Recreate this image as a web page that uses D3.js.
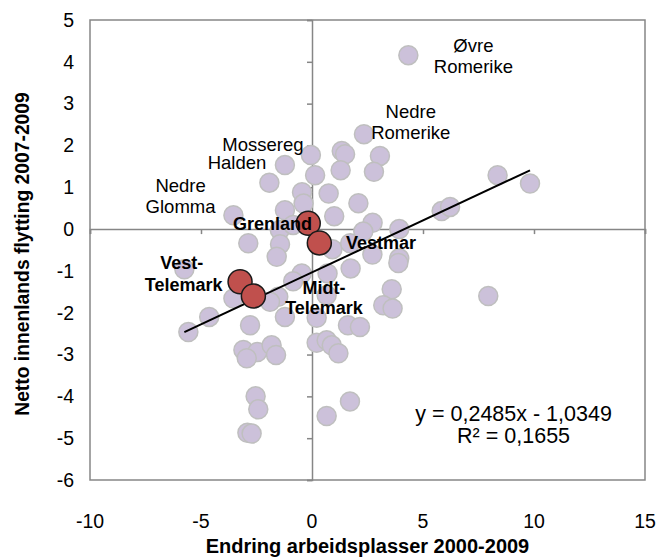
<!DOCTYPE html>
<html><head><meta charset="utf-8">
<script src="https://cdn.jsdelivr.net/npm/d3@7"></script>
<style>html,body{margin:0;padding:0;background:#fff;}svg{display:block;font-family:"Liberation Sans",Arial,sans-serif;}</style>
</head><body>
<script>
// ---- data ----
const xValues = [4.34,2.34,-0.05,1.34,1.49,3.06,0.14,1.29,2.79,8.36,9.82,-1.22,-1.92,-0.45,0.75,2.09,-0.38,-1.22,1.0,5.84,6.22,2.73,2.31,3.93,-3.54,-1.45,-0.85,-2.87,-1.44,-1.59,0.92,1.72,2.72,3.93,3.89,1.74,-5.75,-0.46,0.70,-0.85,-1.52,-1.89,-3.54,0.66,3.59,3.21,3.63,7.94,-4.63,-5.57,-1.22,0.21,1.62,2.16,-2.79,-3.09,-2.46,-1.82,-1.62,-2.94,0.21,0.66,0.89,1.19,-2.54,-2.42,-2.91,-2.72,1.71,0.66];
const yValues = [4.16,2.27,1.77,1.87,1.79,1.75,1.29,1.41,1.37,1.29,1.09,1.53,1.11,0.88,0.85,0.62,0.61,0.45,0.31,0.43,0.53,0.15,-0.06,0.0,0.33,-0.02,0.10,-0.34,-0.36,-0.66,-0.48,-0.34,-0.61,-0.70,-0.81,-0.94,-0.96,-1.06,-1.06,-1.25,-1.62,-1.74,-1.66,-1.58,-1.44,-1.82,-1.90,-1.60,-2.10,-2.46,-2.10,-2.12,-2.30,-2.34,-2.30,-2.89,-2.94,-2.78,-3.01,-3.09,-2.72,-2.66,-2.78,-2.97,-4.00,-4.31,-4.87,-4.89,-4.12,-4.47];
const hlNames = ["Grenland","Vestmar","Vest-Telemark","Midt-Telemark"];
const hlX = [-0.17,0.33,-3.24,-2.64];
const hlY = [0.14,-0.33,-1.26,-1.60];
const xTicks = [-10,-5,0,5,10,15];
const yTicks = [5,4,3,2,1,0,-1,-2,-3,-4,-5,-6];
const trendSlope = 0.2485, trendIntercept = -1.0349, rSquared = 0.1655;
const plainLabels = ["Øvre","Romerike","Nedre","Romerike","Mossereg","Halden","Nedre","Glomma"];
const plainLabelX = [7.27,7.27,4.45,4.45,-2.21,-3.38,-5.92,-5.92];
const plainLabelY = [4.38,3.88,2.80,2.30,2.03,1.58,1.03,0.53];
const boldLabels = ["Grenland","Vestmar","Vest-","Telemark","Midt-","Telemark"];
const boldLabelX = [-1.78,3.11,-5.87,-5.78,0.54,0.54];
const boldLabelY = [0.12,-0.33,-0.81,-1.34,-1.39,-1.89];
const xTitle = "Endring arbeidsplasser 2000-2009";
const yTitle = "Netto innenlands flytting 2007-2009";

// ---- layout ----
const W = 657, H = 557;
const L = 90, R = 645, T = 20, B = 480;
const svg = d3.select("body").append("svg").attr("width", W).attr("height", H);
const x = d3.scaleLinear().domain([-10, 15]).range([L, R]);
const y = d3.scaleLinear().domain([-6, 5]).range([B, T]);
const axisCol = "#868686";

// plot border
svg.append("rect").attr("x", L).attr("y", T).attr("width", R - L).attr("height", B - T)
  .attr("fill", "none").attr("stroke", axisCol).attr("stroke-width", 1.5);

// zero axes with ticks
const gx = svg.append("g").attr("transform", `translate(0,${y(0)})`)
  .call(d3.axisBottom(x).tickValues(xTicks).tickSize(5).tickFormat(""));
const gy = svg.append("g").attr("transform", `translate(${x(0)},0)`)
  .call(d3.axisLeft(y).tickValues(yTicks).tickSize(5).tickFormat(""));
[gx, gy].forEach(g => {
  g.selectAll("path").attr("stroke", axisCol).attr("stroke-width", 1.5);
  g.selectAll("line").attr("stroke", axisCol).attr("stroke-width", 1.5);
});

// tick labels
svg.append("g").selectAll("text").data(xTicks).join("text")
  .attr("x", d => x(d)).attr("y", 528).attr("text-anchor", "middle")
  .attr("font-size", 19.5).attr("fill", "#000").text(d => d);
svg.append("g").selectAll("text").data(yTicks).join("text")
  .attr("x", 74).attr("y", d => y(d)).attr("dy", "0.35em").attr("text-anchor", "end")
  .attr("font-size", 19.5).attr("fill", "#000").text(d => d);

// titles
svg.append("text").attr("x", (L + R) / 2).attr("y", 553).attr("text-anchor", "middle")
  .attr("font-size", 20).attr("font-weight", "bold").text(xTitle);
svg.append("text").attr("transform", `translate(29,${(T + B) / 2 + 4}) rotate(-90)`)
  .attr("text-anchor", "middle").attr("font-size", 19.3).attr("font-weight", "bold").text(yTitle);

// points
const pts = xValues.map((v, i) => ({x: v, y: yValues[i]}));
svg.append("g").selectAll("circle").data(pts).join("circle")
  .attr("cx", d => x(d.x)).attr("cy", d => y(d.y)).attr("r", 9.5)
  .attr("fill", "#ccc1da").attr("stroke", "#bfbfbf").attr("stroke-width", 1.5);

// trend line
const xr = d3.extent(xValues.concat(hlX));
svg.append("line")
  .attr("x1", x(xr[0])).attr("y1", y(trendSlope * xr[0] + trendIntercept))
  .attr("x2", x(xr[1])).attr("y2", y(trendSlope * xr[1] + trendIntercept))
  .attr("stroke", "#000").attr("stroke-width", 2);

// highlighted
const hl = hlNames.map((n, i) => ({n, x: hlX[i], y: hlY[i]}));
svg.append("g").selectAll("circle").data(hl).join("circle")
  .attr("cx", d => x(d.x)).attr("cy", d => y(d.y)).attr("r", 12)
  .attr("fill", "#c0504d").attr("stroke", "#1a1a1a").attr("stroke-width", 1.5);

// labels
svg.append("g").selectAll("text").data(plainLabels).join("text")
  .attr("x", (d, i) => x(plainLabelX[i])).attr("y", (d, i) => y(plainLabelY[i]))
  .attr("dy", "0.35em").attr("text-anchor", "middle").attr("font-size", 18.5).text(d => d);
svg.append("g").selectAll("text").data(boldLabels).join("text")
  .attr("x", (d, i) => x(boldLabelX[i])).attr("y", (d, i) => y(boldLabelY[i]))
  .attr("dy", "0.35em").attr("text-anchor", "middle").attr("font-size", 18)
  .attr("font-weight", "bold").text(d => d);

// equation
const fmt = v => String(v).replace(".", ",");
svg.append("text").attr("x", x(9.08)).attr("y", y(-4.40)).attr("dy", "0.35em")
  .attr("text-anchor", "middle").attr("font-size", 21.5)
  .text(`y = ${fmt(trendSlope)}x - ${fmt(-trendIntercept)}`);
svg.append("text").attr("x", x(9.08)).attr("y", y(-4.93)).attr("dy", "0.35em")
  .attr("text-anchor", "middle").attr("font-size", 21.5)
  .text(`R² = ${fmt(rSquared)}`);
</script>
</body></html>
